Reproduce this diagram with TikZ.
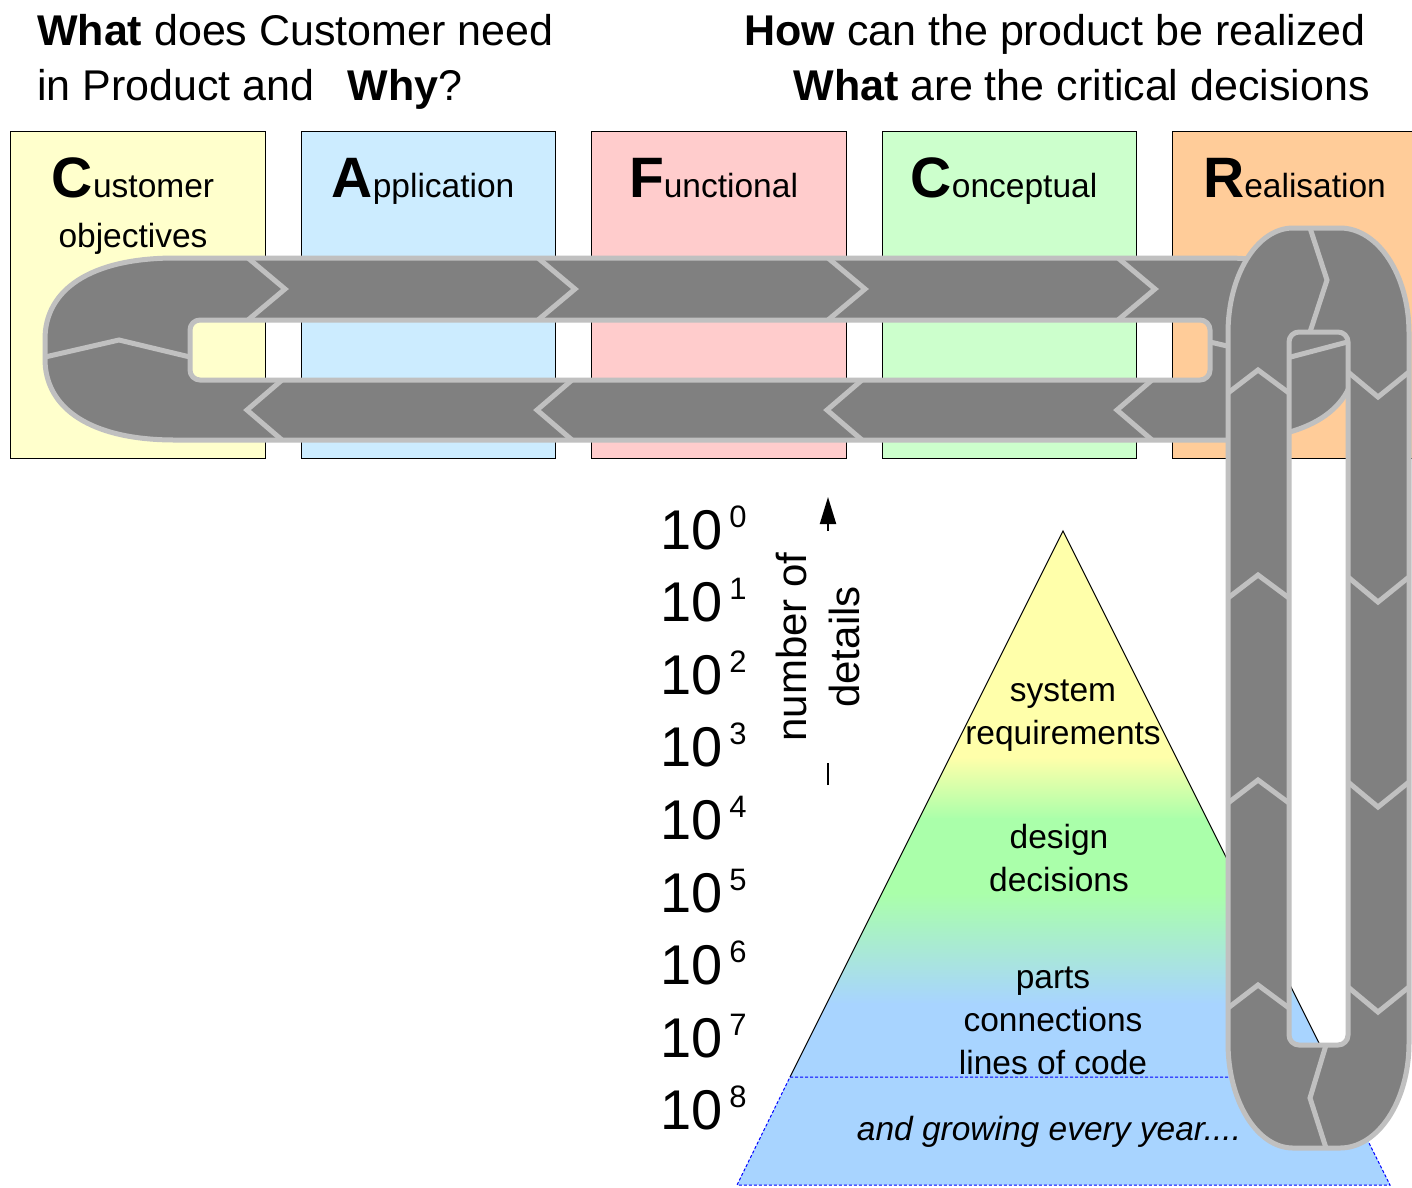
\documentclass[tikz,border=0pt]{standalone}
\usepackage{fontspec}
\setmainfont{Liberation Sans}
\usetikzlibrary{arrows.meta}
\definecolor{cyel}{HTML}{FFFFCC}
\definecolor{cblu}{HTML}{CCECFF}
\definecolor{cpnk}{HTML}{FFCCCC}
\definecolor{cgrn}{HTML}{CCFFCC}
\definecolor{corg}{HTML}{FFCC99}
\definecolor{cgray}{HTML}{808080}
\definecolor{clight}{HTML}{C0C0C0}
\definecolor{pyel}{HTML}{FFFFAA}
\definecolor{pgrn}{HTML}{AAFFAA}
\definecolor{pblu}{HTML}{A8D4FF}
\newcommand\biglet[1]{{\fontsize{57}{57}\selectfont\bfseries #1}}
\begin{document}
\begin{tikzpicture}[x=1pt,y=-1pt,
  boxst/.style={draw=black, line width=1pt, anchor=north west, minimum width=254.5, minimum height=327, inner sep=0},
  labst/.style={anchor=base, inner sep=0, font=\fontsize{33.5}{50}\selectfont},
  headst/.style={inner sep=0, font=\fontsize{43}{52}\selectfont},
  chainst/.style={fill=cgray, draw=clight, line width=5pt},
  chev/.style={draw=clight, line width=5pt},
  pyrtext/.style={anchor=base, inner sep=0, font=\fontsize{33.5}{43}\selectfont},
  numst/.style={anchor=base west, inner sep=0}]
\clip (0,0) rectangle (1412,1187);
\fill[white] (0,0) rectangle (1412,1187);

% column boxes
\node[boxst, fill=cyel] (box1) at (10,131) {};
\node[boxst, fill=cblu] (box2) at (300.5,131) {};
\node[boxst, fill=cpnk] (box3) at (591,131) {};
\node[boxst, fill=cgrn] (box4) at (881.5,131) {};
\node[boxst, fill=corg] (box5) at (1172,131) {};

\node[labst] (lab1) at (133,197) {\begin{tabular}[t]{@{}c@{}}\biglet{C}ustomer\\objectives\end{tabular}};
\node[labst] (lab2) at (423,197) {\biglet{A}pplication};
\node[labst] (lab3) at (713.5,197) {\biglet{F}unctional};
\node[labst] (lab4) at (1004,197) {\biglet{C}onceptual};
\node[labst] (lab5) at (1294.5,197) {\biglet{R}ealisation};

% horizontal chain link
\path[chainst, even odd rule] (175,258) -- (1225,258)
  .. controls (1310,258) and (1355,290) .. (1355,339) -- (1355,359)
  .. controls (1355,408) and (1310,440) .. (1225,440) -- (175,440)
  .. controls (90,440) and (45,408) .. (45,359) -- (45,339)
  .. controls (45,290) and (90,258) .. (175,258) -- cycle
  [rounded corners=10] (190,320) rectangle (1210,380);
\foreach \x in {248,538,828,1118}
  \draw[chev] (\x,258) -- ({\x+37},289) -- (\x,320);
\foreach \x in {247,537,827,1117}
  \draw[chev] ({\x+35},380) -- (\x,410) -- ({\x+35},440);
\draw[chev] (45,357) -- (119,340) -- (190,357);
\draw[chev] (1210,342) -- (1283,359) -- (1355,340);

% pyramid
\begin{scope}
  \clip (790,1077) -- (1063,531) -- (1336,1077) -- cycle;
  \fill[pyel] (780,525) rectangle (1340,758);
  \shade[top color=pyel, bottom color=pgrn] (780,757) rectangle (1340,819);
  \fill[pgrn] (780,818) rectangle (1340,894);
  \shade[top color=pgrn, bottom color=pblu] (780,893) rectangle (1340,1004);
  \fill[pblu] (780,1003) rectangle (1340,1080);
\end{scope}
\draw[black, line width=1pt] (790,1077) -- (1063,531) -- (1336,1077);
\path[fill=pblu, draw=blue, line width=1pt, dash pattern=on 3pt off 2pt]
  (790,1077) -- (1336,1077) -- (1390,1185) -- (737,1185) -- cycle;

\node[pyrtext] (t1) at (1063,701) {\begin{tabular}[t]{@{}c@{}}system\\requirements\end{tabular}};
\node[pyrtext] (t2) at (1059,848) {\begin{tabular}[t]{@{}c@{}}design\\decisions\end{tabular}};
\node[pyrtext] (t3) at (1053,988) {\begin{tabular}[t]{@{}c@{}}parts\\connections\\lines of code\end{tabular}};
\node[pyrtext, font=\fontsize{33.5}{43}\selectfont\itshape] (t4) at (1049,1140) {and growing every year....};

% vertical chain link
\path[chainst, even odd rule] (1228,333)
  .. controls (1228,275) and (1257,228) .. (1293,228) -- (1340,228)
  .. controls (1378,228) and (1409,275) .. (1409,333) -- (1409,1043)
  .. controls (1409,1101) and (1378,1148) .. (1340,1148) -- (1293,1148)
  .. controls (1257,1148) and (1228,1101) .. (1228,1043) -- cycle
  [rounded corners=10] (1289,332) rectangle (1348,1045);
\foreach \a in {370,575,780,985} {
  \draw[chev] (1228,{\a+23}) -- (1258,\a) -- (1289,{\a+23});
  \draw[chev] (1348,{\a+2}) -- (1378,{\a+27}) -- (1409,{\a+2});
}
\draw[chev] (1310,228) -- (1327,280) -- (1310,332);
\draw[chev] (1326,1045) -- (1310,1098) -- (1326,1148);

% scale of number of details
\foreach \k in {0,...,8}
  \node[numst] (n\k) at (660,{549+72.6*\k})
    {\fontsize{56}{64}\selectfont 10\kern7pt\raisebox{22pt}{\fontsize{31}{38}\selectfont \k}};

\coordinate (abot) at (828,785);
\coordinate (atop) at (828,497);
\draw[line width=2pt, -{Triangle[length=27pt,width=16pt]}] (abot) -- (atop);
\node[rotate=90, fill=white, inner sep=2pt, minimum width=232, font=\fontsize{42}{53}\selectfont] (ndet) at (822,647)
  {\begin{tabular}{@{}c@{}}number of\\details\end{tabular}};

% headings
\node[headst, anchor=base west] (h1) at (37,45) {\textbf{What} does Customer need};
\node[headst, anchor=base west] (h2) at (37,100) {in Product and\hspace{33pt}\textbf{Why}?};
\node[headst, anchor=base east] (h3) at (1366,45) {\textbf{How} can the product be realized};
\node[headst, anchor=base east] (h4) at (1370,100) {\textbf{What} are the critical decisions};
\end{tikzpicture}
\end{document}
